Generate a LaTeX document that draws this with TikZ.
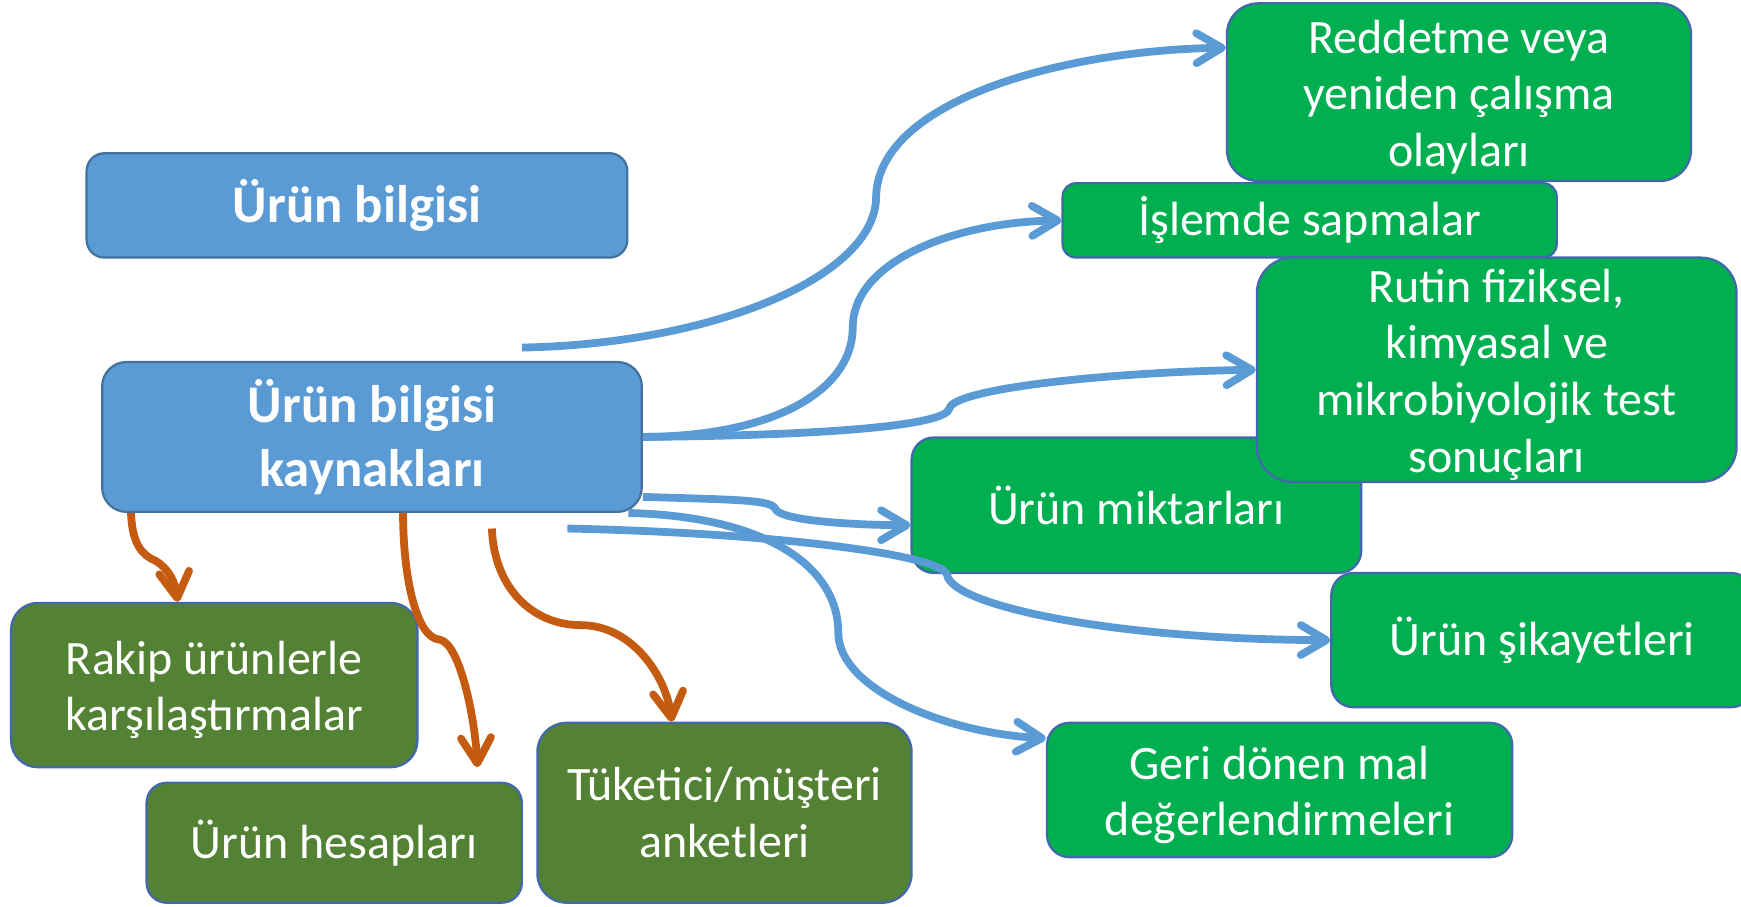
\documentclass[tikz,border=0pt]{standalone}
\usepackage{fontspec}
\setmainfont{Carlito}
\usetikzlibrary{arrows.meta}
\definecolor{bfill}{HTML}{5B9BD5}
\definecolor{bbord}{HTML}{41719C}
\definecolor{gfill}{HTML}{00B050}
\definecolor{ofill}{HTML}{548235}
\definecolor{gbord}{HTML}{4267AC}
\definecolor{barr}{HTML}{5B9BD5}
\definecolor{oarr}{HTML}{C55A11}
\newcommand\fsreg{\fontsize{21.6}{25.5}\selectfont}
\newcommand\fsbold{\fontsize{23.8}{29}\selectfont\bfseries}
\newcommand\tallstrut{\rule{0pt}{19.3pt}}
\begin{document}
\begin{tikzpicture}[x=0.5pt,y=-0.5pt,
  box/.style={draw=gbord, line width=1pt, text=white, align=center, inner sep=0pt, font=\fsreg},
  bluebox/.style={box, fill=bfill, draw=bbord, font=\fsbold},
  greenbox/.style={box, fill=gfill},
  olivebox/.style={box, fill=ofill},
  barrow/.style={draw=barr, line width=3.5pt, -{Straight Barb[length=11.5pt,width=13.5pt,round]}},
  oarrow/.style={draw=oarr, line width=3.5pt, -{Straight Barb[length=11.5pt,width=13.5pt,round]}}]
\useasboundingbox (0,0) rectangle (1568,816);
% boxes
\node[bluebox, minimum width=243.5pt, minimum height=47pt, rounded corners=8pt] (n1) at (321.5,185) {Ürün bilgisi};
\node[bluebox, minimum width=243pt, minimum height=67.5pt, rounded corners=11pt] (n2) at (335,393.5) {Ürün bilgisi\\kaynakları};
\node[greenbox, minimum width=209pt, minimum height=80pt, rounded corners=14pt] (n3) at (1314,83) {\tallstrut Reddetme veya\\yeniden çalışma\\olayları};
\node[greenbox, minimum width=222.5pt, minimum height=33.5pt, rounded corners=6pt] (n4) at (1179.5,198.5) {İşlemde sapmalar};
\node[greenbox, minimum width=202.5pt, minimum height=61pt, rounded corners=10pt] (n6) at (1023.5,455) {Ürün miktarları};
\node[greenbox, minimum width=216pt, minimum height=101pt, rounded corners=16pt] (n5) at (1348,333) {\tallstrut Rutin fiziksel,\\kimyasal ve\\mikrobiyolojik test\\sonuçları};
\node[greenbox, minimum width=190pt, minimum height=60.5pt, rounded corners=10pt] (n7) at (1389,576.5) {Ürün şikayetleri};
\node[greenbox, minimum width=209.5pt, minimum height=60.5pt, rounded corners=10pt] (n8) at (1152.5,711.5) {\tallstrut Geri dönen mal\\değerlendirmeleri};
\node[olivebox, minimum width=183pt, minimum height=74pt, rounded corners=12pt] (n9) at (193,617) {\tallstrut Rakip ürünlerle\\karşılaştırmalar};
\node[olivebox, minimum width=169pt, minimum height=54pt, rounded corners=9pt] (n10) at (301,759) {Ürün hesapları};
\node[olivebox, minimum width=168.5pt, minimum height=81pt, rounded corners=13pt] (n11) at (652.5,732) {Tüketici/müşteri\\anketleri};
% free coordinates
\coordinate (sA) at (470,313);
\coordinate (sF) at (511,476);
\coordinate (sI) at (443,476);
\coordinate (tH) at (430,691);
% blue arrows
\draw[barrow] (sA) .. controls (640,310) and (788,250) .. (789,178) .. controls (790,90) and (960,45) .. ([yshift=20pt]n3.west);
\draw[barrow] (n2.east) .. controls (700,393) and (768,350) .. (768,295) .. controls (768,235) and (860,200) .. (n4.west);
\draw[barrow] (n2.east) .. controls (760,392) and (852,382) .. (855,368) .. controls (858,350) and (1000,335) .. (n5.west);
\draw[barrow] ([yshift=-27pt]n2.east) .. controls (660,450) and (695,450) .. (698,458) .. controls (702,470) and (780,473) .. ([yshift=-9pt]n6.west);
\draw[barrow] ([xshift=-6.5pt]n2.south east) .. controls (690,465) and (755,510) .. (755,570) .. controls (755,620) and (850,660) .. ([yshift=23.25pt]n8.west);
\draw[barrow] (sF) .. controls (700,480) and (850,500) .. (853,518) .. controls (858,545) and (1000,576) .. (n7.west);
% orange arrows
\draw[oarrow] ([xshift=13.5pt]n2.south west) .. controls (119,490) and (128,500) .. (140,505) .. controls (152,512) and (158,525) .. ([xshift=-16.5pt]n9.north);
\draw[oarrow] ([xshift=14pt]n2.south) .. controls (363,520) and (375,575) .. (396,576) .. controls (415,580) and (428,650) .. (tH);
\draw[oarrow] (sI) .. controls (445,530) and (480,563) .. (523,563) .. controls (570,563) and (600,610) .. ([xshift=-23.75pt]n11.north);
\end{tikzpicture}
\end{document}
